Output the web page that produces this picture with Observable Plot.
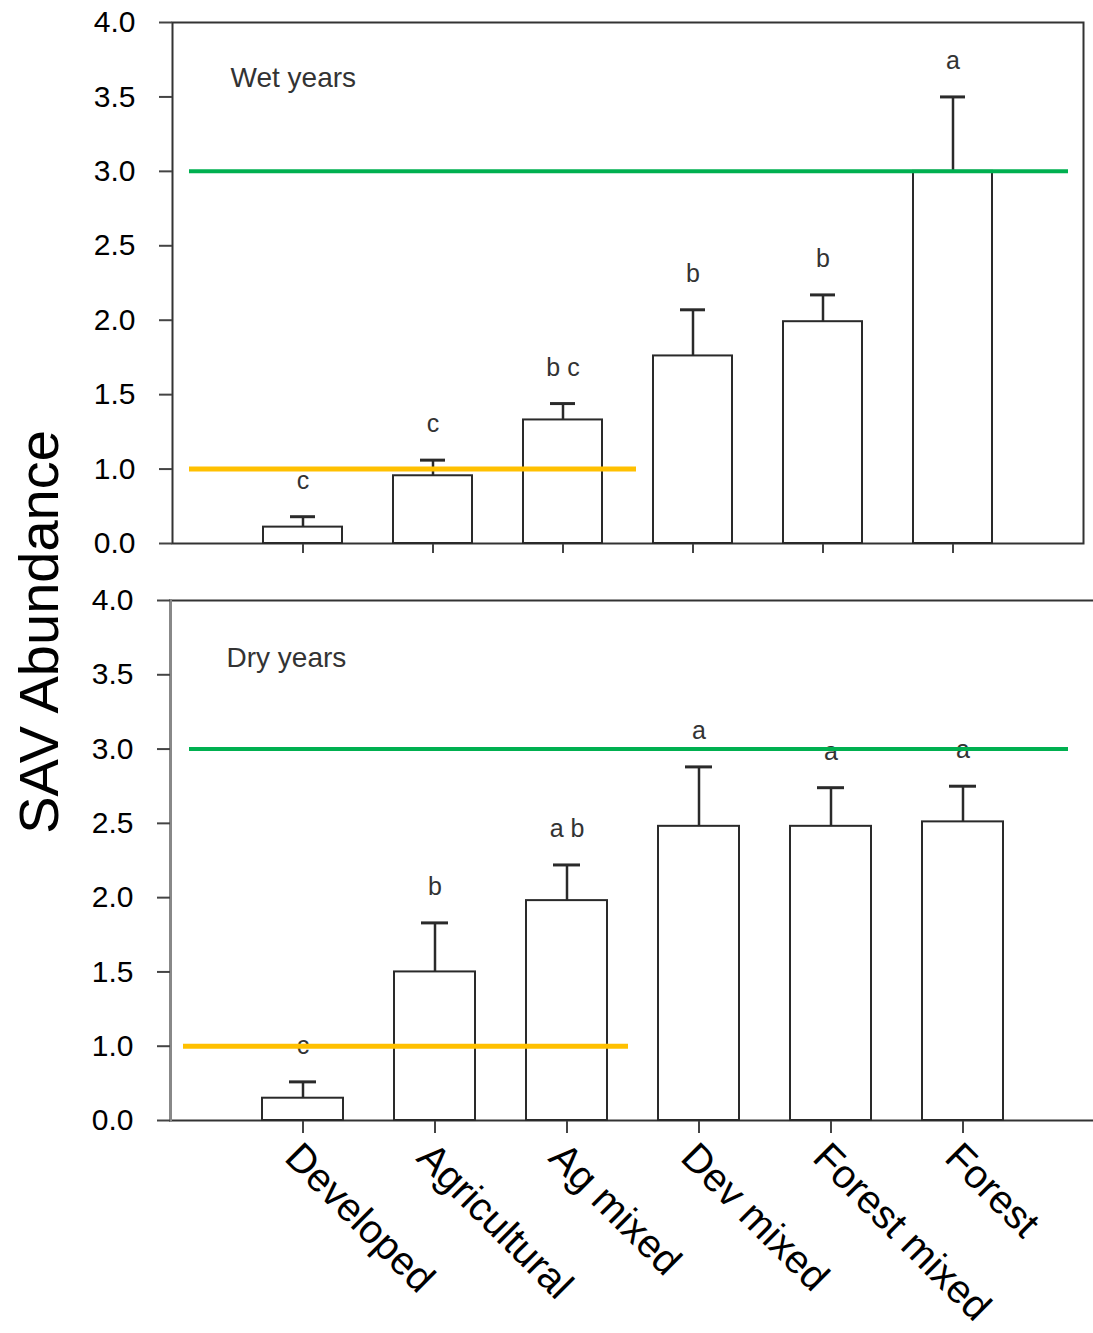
<!DOCTYPE html>
<html>
<head>
<meta charset="utf-8">
<script src="https://cdn.jsdelivr.net/npm/d3@7"></script>
<script src="https://cdn.jsdelivr.net/npm/@observablehq/plot@0.6"></script>
<style>
  body { margin: 0; background: #fff; }
  #fig { position: relative; width: 1093px; height: 1333px; overflow: hidden; background: #fff;
         font-family: "Liberation Sans", Arial, Helvetica, sans-serif; }
  #wet { position: absolute; left: 0; top: 0; }
  #dry { position: absolute; left: 0; top: 570px; }
  #ylab { position: absolute; left: 39px; top: 632px; transform: translate(-50%, -50%) rotate(-90deg);
          font-size: 56px; line-height: 1; white-space: nowrap; color: #000; }
</style>
</head>
<body>
<div id="fig">
  <div id="wet"></div>
  <div id="dry"></div>
  <div id="ylab">SAV Abundance</div>
</div>
<script>
// ---- data (values in the units printed on the y axis) ----
const categories = ["Developed", "Agricultural", "Ag mixed", "Dev mixed", "Forest mixed", "Forest"];

const wetMean    = [0.22, 0.91, 1.33, 1.76, 1.99, 3.00];
const wetUpper   = [0.36, 1.06, 1.44, 2.07, 2.17, 3.50];   // mean + error bar
const wetLetters = ["c", "c", "b c", "b", "b", "a"];

const dryMean    = [0.30, 1.50, 1.98, 2.48, 2.48, 2.51];
const dryUpper   = [0.52, 1.83, 2.22, 2.88, 2.74, 2.75];
const dryLetters = ["c", "b", "a b", "a", "a", "a"];

const yTickValues = [0, 1, 1.5, 2, 2.5, 3, 3.5, 4];
const goodLevel = 3;     // green reference line
const poorLevel = 1;     // orange reference line

// The printed axis is broken: the 0.0–1.0 interval occupies half a unit.
const axisPos = v => (v < 1 ? 0.5 + v / 2 : v);
const axisLabel = p => (p < 1 ? (p - 0.5) * 2 : p).toFixed(1);

const FONT = '"Liberation Sans", Arial, Helvetica, sans-serif';

function panel({mean, upper, letters, title, height, marginTop, marginBottom, marginLeft, marginRight,
                frameMarks, xTickSize, showLabels, titleDx, titleDy, orangeInsetLeft, orangeInsetRight,
                greenInsetLeft, greenInsetRight}) {
  const rows = categories.map((c, i) => ({
    cat: c, mean: axisPos(mean[i]), upper: axisPos(upper[i]), letter: letters[i]
  }));
  const marks = [
    ...frameMarks,
    Plot.axisY(yTickValues.map(axisPos), {
      tickFormat: axisLabel, tickSize: 13, tickPadding: 24, fontSize: 30,
      stroke: "#444", strokeWidth: 2, fill: "#000", label: null
    }),
    Plot.axisX({tickSize: xTickSize, tickFormat: () => "", stroke: "#444", strokeWidth: 2, label: null}),
    Plot.barY(rows, {x: "cat", y1: 0.5, y2: "mean", fill: "white", stroke: "#2a2a2a", strokeWidth: 2}),
    Plot.ruleX(rows, {x: "cat", y1: "mean", y2: "upper", stroke: "#2a2a2a", strokeWidth: 2.5}),
    Plot.tickY(rows, {x: "cat", y: "upper", insetLeft: 27, insetRight: 27, stroke: "#2a2a2a", strokeWidth: 3}),
    Plot.text(rows, {x: "cat", y: "upper", text: "letter", dy: -36, fontSize: 25, fill: "#333", lineAnchor: "middle"}),
    Plot.text([title], {frameAnchor: "top-left", dx: titleDx, dy: titleDy, fontSize: 28, fill: "#333",
                        textAnchor: "start", lineAnchor: "middle", letterSpacing: 1}),
    Plot.ruleY([axisPos(goodLevel)], {stroke: "#00b050", strokeWidth: 4, insetLeft: greenInsetLeft, insetRight: greenInsetRight}),
    Plot.ruleY([axisPos(poorLevel)], {stroke: "#ffc000", strokeWidth: 5, insetLeft: orangeInsetLeft, insetRight: orangeInsetRight})
  ];
  if (showLabels) {
    marks.push(Plot.text(categories, {
      x: d => d, frameAnchor: "bottom", rotate: 45, textAnchor: "start", lineAnchor: "middle",
      dx: -11, dy: 30, fontSize: 40, fill: "#000"
    }));
  }
  return Plot.plot({
    width: 1093, height, marginTop, marginBottom, marginLeft, marginRight,
    x: {domain: categories, paddingInner: 0.39, paddingOuter: 0.695, axis: null},
    y: {domain: [0.5, 4], axis: null},
    style: {fontFamily: FONT, background: "transparent", overflow: "visible", color: "#000"},
    marks
  });
}

document.getElementById("wet").append(panel({
  mean: wetMean, upper: wetUpper, letters: wetLetters, title: "Wet years",
  height: 570, marginTop: 22, marginBottom: 27, marginLeft: 172, marginRight: 10,
  frameMarks: [Plot.frame({stroke: "#333", strokeWidth: 2})],
  xTickSize: 10, showLabels: false, titleDx: 58, titleDy: 56,
  greenInsetLeft: 17, greenInsetRight: 15, orangeInsetLeft: 17, orangeInsetRight: 447
}));

document.getElementById("dry").append(panel({
  mean: dryMean, upper: dryUpper, letters: dryLetters, title: "Dry years",
  height: 763, marginTop: 30, marginBottom: 213, marginLeft: 170, marginRight: -2,
  frameMarks: [
    Plot.frame({anchor: "top", stroke: "#333", strokeWidth: 2}),
    Plot.frame({anchor: "bottom", stroke: "#333", strokeWidth: 2}),
    Plot.frame({anchor: "left", stroke: "#888", strokeWidth: 3})
  ],
  xTickSize: 13, showLabels: true, titleDx: 56, titleDy: 58,
  greenInsetLeft: 19, greenInsetRight: 27, orangeInsetLeft: 13, orangeInsetRight: 467
}));
</script>
</body>
</html>
